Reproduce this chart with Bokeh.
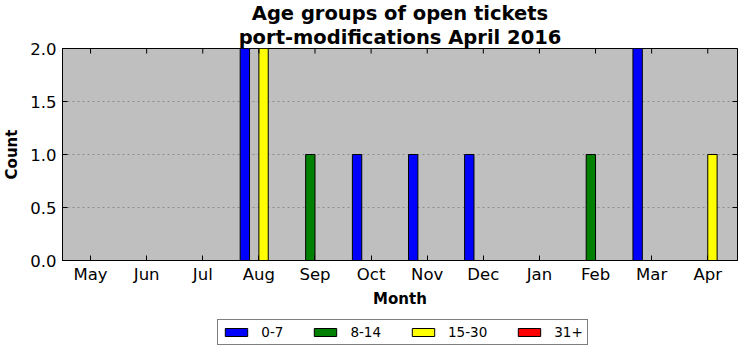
import math
from bokeh.plotting import figure
from bokeh.layouts import column
from bokeh.models import (ColumnDataSource, FixedTicker, Range1d, Legend, LegendItem, Title)
from bokeh.embed import file_html
from bokeh.resources import INLINE

months = ["May", "Jun", "Jul", "Aug", "Sep", "Oct", "Nov", "Dec", "Jan", "Feb", "Mar", "Apr"]
series_names = ["0-7", "8-14", "15-30", "31+"]
counts_0_7 = [0, 0, 0, 2, 0, 1, 1, 1, 0, 0, 2, 0]
counts_8_14 = [0, 0, 0, 0, 1, 0, 0, 0, 0, 1, 0, 0]
counts_15_30 = [0, 0, 0, 2, 0, 0, 0, 0, 0, 0, 0, 1]
counts_31 = [0, 0, 0, 0, 0, 0, 0, 0, 0, 0, 0, 0]
colors = ["blue", "green", "yellow", "red"]
y_ticks = [0.0, 0.5, 1.0, 1.5, 2.0]

FONT = "DejaVu Sans"
bar_w = 1 / 6
X_MIN, X_MAX = -0.5, 11.53
Y_MIN, Y_MAX = 0, 2
LEFT = 54

p = figure(frame_width=675, frame_height=212, output_backend="svg", toolbar_location=None,
           x_range=Range1d(X_MIN, X_MAX), y_range=Range1d(Y_MIN, Y_MAX),
           min_border_left=2, min_border_right=1, min_border_top=45, min_border_bottom=4)
p.background_fill_color = "#bfbfbf"
p.border_fill_color = "white"
p.outline_line_color = "black"
p.outline_line_width = 1

idx = list(range(len(months)))
all_series = [counts_0_7, counts_8_14, counts_15_30, counts_31]
for k, (vals, col) in enumerate(zip(all_series, colors)):
    xs = [i + (k - 2) * bar_w + bar_w / 2 for i in idx]
    src = ColumnDataSource(dict(x=xs, top=vals))
    p.vbar(x="x", top="top", bottom=0, width=bar_w, source=src,
           fill_color=col, line_color="black", line_width=1)

# mirrored inward ticks on top and right edges
p.scatter(x=idx, y=[Y_MAX] * len(idx), marker="dash", size=10, angle=math.pi / 2,
          line_color="black", line_width=1)
p.scatter(x=[X_MAX] * len(y_ticks), y=y_ticks, marker="dash", size=10,
          line_color="black", line_width=1)

xa = p.xaxis[0]
xa.ticker = FixedTicker(ticks=idx)
xa.major_label_overrides = {i: m for i, m in enumerate(months)}
ya = p.yaxis[0]
ya.ticker = FixedTicker(ticks=y_ticks)
ya.major_label_overrides = {0: "0.0", 0.5: "0.5", 1: "1.0", 1.5: "1.5", 2: "2.0"}
for ax in (xa, ya):
    ax.major_tick_in = 5
    ax.major_tick_out = 0
    ax.minor_tick_line_color = None
    ax.axis_line_color = "black"
    ax.major_label_text_font = FONT
    ax.major_label_text_font_size = "16.5px"
    ax.major_label_text_color = "black"
    ax.axis_label_text_font = FONT
    ax.axis_label_text_font_size = "15px"
    ax.axis_label_text_font_style = "bold"
    ax.axis_label_text_color = "black"
xa.axis_label = "Month"
ya.axis_label = "Count"
xa.major_label_standoff = 4
ya.major_label_standoff = 6
xa.axis_label_standoff = 3
ya.axis_label_standoff = 6

p.xgrid.grid_line_color = None
p.ygrid.ticker = FixedTicker(ticks=y_ticks)
p.ygrid.grid_line_color = "#8c8c8c"
p.ygrid.grid_line_dash = "2 3"
p.ygrid.grid_line_width = 1

p.title.text = "Age groups of open tickets"
p.title.align = "center"
p.title.text_font = FONT
p.title.text_font_size = "19.5px"
p.title.text_font_style = "bold"
p.title.text_color = "black"
p.title.standoff = -2
t2 = Title(text="port-modifications April 2016", align="center", text_font=FONT,
           text_font_size="19.5px", text_font_style="bold", text_color="black",
           standoff=0)
p.add_layout(t2, "above")

# legend strip
lg = figure(frame_width=675, frame_height=35, output_backend="svg", toolbar_location=None,
            x_range=Range1d(0, 1), y_range=Range1d(0, 1),
            min_border_left=LEFT, min_border_right=1, min_border_top=0, min_border_bottom=0)
lg.axis.visible = False
lg.grid.visible = False
lg.outline_line_color = None
lg.background_fill_color = "white"
lg.border_fill_color = "white"
dummies = [lg.vbar(x=[-10], top=[0], width=0.1, fill_color=c, line_color="black", line_width=1)
           for c in colors]
legend = Legend(items=[LegendItem(label=n, renderers=[r]) for n, r in zip(series_names, dummies)],
                orientation="horizontal", location=(199, 0),
                label_text_font=FONT, label_text_font_size="13.5px", label_text_color="black",
                glyph_width=28, glyph_height=10, label_standoff=11, spacing=28,
                padding=4, margin=0,
                border_line_color="black", border_line_width=1,
                background_fill_color="white", background_fill_alpha=1)
lg.add_layout(legend, "center")

layout = column(p, lg, spacing=0)
open("out.html", "w").write(file_html(layout, INLINE))
